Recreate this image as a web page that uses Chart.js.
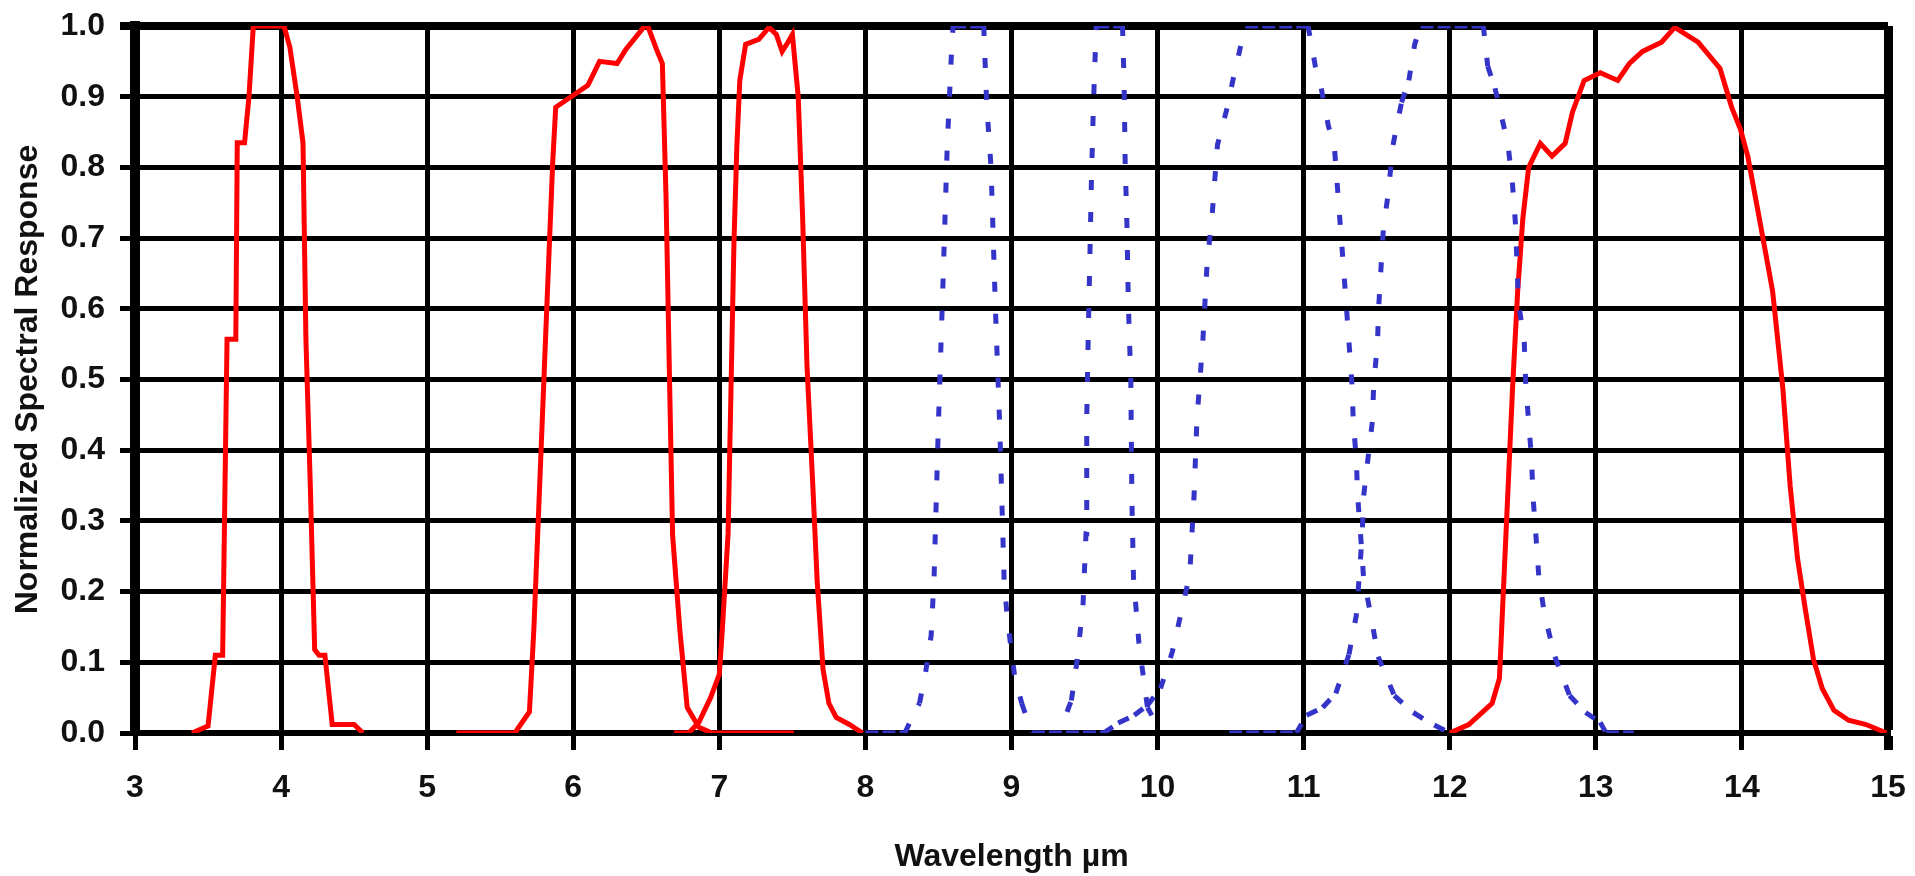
<!DOCTYPE html>
<html>
<head>
<meta charset="utf-8">
<script src="https://cdn.jsdelivr.net/npm/chart.js@4.4.1/dist/chart.umd.min.js"></script>
<style>
    html, body { margin: 0; padding: 0; background: #fff; }
    #wrap { width: 1915px; height: 876px; }
</style>
</head>
<body>
<div id="wrap"><canvas id="chart" width="1915" height="876"></canvas></div>
<script>
// axis ticks
const xTicks = [3, 4, 5, 6, 7, 8, 9, 10, 11, 12, 13, 14, 15];
const yTicks = [0, 0.1, 0.2, 0.3, 0.4, 0.5, 0.6, 0.7, 0.8, 0.9, 1.0];

// red (solid) bands
const band1Wl   = [3.39, 3.50, 3.55, 3.60, 3.63, 3.69, 3.70, 3.75, 3.78, 3.81, 4.02, 4.06, 4.11, 4.15, 4.17, 4.20, 4.23, 4.26, 4.30, 4.35, 4.50, 4.56];
const band1Resp = [0, 0.01, 0.11, 0.11, 0.557, 0.557, 0.835, 0.835, 0.90, 1.0, 1.0, 0.97, 0.90, 0.835, 0.557, 0.35, 0.118, 0.11, 0.11, 0.012, 0.012, 0];

const band2Wl   = [5.20, 5.60, 5.70, 5.73, 5.77, 5.81, 5.86, 5.88, 6.00, 6.10, 6.18, 6.30, 6.36, 6.49, 6.51, 6.57, 6.61, 6.635, 6.66, 6.68, 6.73, 6.78, 6.86, 6.95, 7.51];
const band2Resp = [0, 0, 0.03, 0.145, 0.35, 0.556, 0.81, 0.885, 0.902, 0.916, 0.95, 0.947, 0.967, 1.0, 1.0, 0.967, 0.947, 0.76, 0.49, 0.28, 0.145, 0.036, 0.008, 0, 0];

const band3Wl   = [6.69, 6.79, 6.86, 6.94, 7.00, 7.02, 7.06, 7.08, 7.10, 7.12, 7.14, 7.18, 7.27, 7.34, 7.39, 7.43, 7.47, 7.50, 7.54, 7.57, 7.60, 7.64, 7.67, 7.71, 7.75, 7.80, 7.89, 7.98];
const band3Resp = [0, 0, 0.015, 0.05, 0.083, 0.145, 0.282, 0.488, 0.693, 0.83, 0.923, 0.974, 0.981, 0.998, 0.988, 0.964, 0.977, 0.988, 0.9, 0.73, 0.52, 0.35, 0.214, 0.09, 0.042, 0.022, 0.012, 0];

const band4Wl   = [12.00, 12.13, 12.29, 12.34, 12.37, 12.40, 12.43, 12.465, 12.50, 12.54, 12.62, 12.70, 12.79, 12.84, 12.92, 13.03, 13.15, 13.23, 13.32, 13.45, 13.54, 13.70, 13.85, 13.93, 13.99, 14.04, 14.12, 14.21, 14.28, 14.33, 14.38, 14.43, 14.49, 14.55, 14.63, 14.73, 14.85, 14.99];
const band4Resp = [0, 0.012, 0.042, 0.077, 0.214, 0.35, 0.488, 0.625, 0.727, 0.80, 0.834, 0.816, 0.834, 0.878, 0.923, 0.934, 0.923, 0.947, 0.964, 0.977, 0.998, 0.977, 0.94, 0.885, 0.854, 0.816, 0.727, 0.625, 0.488, 0.35, 0.248, 0.18, 0.104, 0.063, 0.032, 0.018, 0.012, 0];

// blue (dotted) bands
const band5Wl   = [8.00, 8.27, 8.32, 8.37, 8.41, 8.45, 8.47, 8.50, 8.53, 8.56, 8.59, 8.60, 8.81, 8.83, 8.86, 8.89, 8.92, 8.95, 8.97, 9.00, 9.02, 9.07, 9.14];
const band5Resp = [0, 0, 0.022, 0.042, 0.083, 0.138, 0.22, 0.44, 0.63, 0.83, 0.966, 1.0, 1.0, 0.89, 0.80, 0.60, 0.43, 0.213, 0.166, 0.114, 0.083, 0.042, 0];

const band6Wl   = [9.38, 9.41, 9.45, 9.49, 9.51, 9.515, 9.525, 9.536, 9.547, 9.561, 9.577, 9.58, 9.76, 9.771, 9.778, 9.79, 9.80, 9.817, 9.824, 9.835, 9.872, 9.913, 9.931, 9.96];
const band6Resp = [0.03, 0.046, 0.104, 0.183, 0.282, 0.446, 0.559, 0.668, 0.78, 0.89, 0.983, 1.0, 1.0, 0.918, 0.808, 0.72, 0.607, 0.497, 0.333, 0.22, 0.128, 0.063, 0.036, 0.025];

const band7Wl   = [9.14, 9.63, 9.73, 9.84, 9.93, 10.02, 10.10, 10.16, 10.22, 10.25, 10.27, 10.29, 10.31, 10.34, 10.37, 10.39, 10.41, 10.48, 10.51, 10.57, 10.60, 11.03, 11.08, 11.12, 11.17, 11.21, 11.23, 11.25, 11.27, 11.29, 11.31, 11.33, 11.34, 11.36, 11.37, 11.39, 11.41, 11.46, 11.51, 11.62, 11.75, 11.86, 12.00];
const band7Resp = [0, 0, 0.014, 0.025, 0.039, 0.063, 0.114, 0.169, 0.224, 0.337, 0.446, 0.50, 0.555, 0.668, 0.723, 0.778, 0.832, 0.887, 0.918, 0.973, 1.0, 1.0, 0.943, 0.912, 0.858, 0.83, 0.775, 0.72, 0.666, 0.61, 0.553, 0.495, 0.44, 0.388, 0.334, 0.279, 0.22, 0.166, 0.108, 0.053, 0.029, 0.015, 0];

const band8Wl   = [10.49, 10.95, 11.02, 11.13, 11.22, 11.31, 11.36, 11.38, 11.40, 11.41, 11.44, 11.47, 11.48, 11.505, 11.514, 11.53, 11.546, 11.58, 11.61, 11.67, 11.72, 11.76, 11.80, 12.23, 12.26, 12.31, 12.37, 12.40, 12.43, 12.45, 12.46, 12.47, 12.51, 12.52, 12.54, 12.56, 12.57, 12.59, 12.61, 12.65, 12.72, 12.82, 12.93, 13.03, 13.07, 13.26];
const band8Resp = [0, 0, 0.025, 0.036, 0.056, 0.111, 0.166, 0.22, 0.279, 0.334, 0.388, 0.44, 0.495, 0.55, 0.604, 0.66, 0.714, 0.765, 0.83, 0.892, 0.923, 0.974, 1.0, 1.0, 0.943, 0.912, 0.858, 0.83, 0.775, 0.72, 0.666, 0.61, 0.553, 0.495, 0.44, 0.388, 0.334, 0.279, 0.22, 0.166, 0.108, 0.053, 0.029, 0.015, 0, 0];

const RED = '#ff0000';
const BLUE = '#3434c8';
const FONT = '"Liberation Sans", Arial, sans-serif';

function pts(wl, resp) {
    return wl.map((w, i) => ({x: w, y: resp[i]}));
}

// short dashes that stretch out on the steep parts
function blueDash(ctx) {
    const dx = Math.abs(ctx.p1.x - ctx.p0.x);
    const dy = Math.abs(ctx.p1.y - ctx.p0.y);
    const len = Math.hypot(dx, dy) || 1;
    const s = Math.round(dy / len * 10) / 10;
    return [13 - 3 * s, 4 + 18 * s];
}

function band(wl, resp, dotted) {
    return {
        data: pts(wl, resp),
        borderColor: dotted ? BLUE : RED,
        borderWidth: 5,
        borderCapStyle: 'butt',
        borderJoinStyle: 'miter',
        pointRadius: 0,
        pointHoverRadius: 0,
        tension: 0,
        fill: false,
        segment: dotted ? {borderDash: blueDash} : undefined,
    };
}

const datasets = [
    band(band5Wl, band5Resp, true),
    band(band6Wl, band6Resp, true),
    band(band7Wl, band7Resp, true),
    band(band8Wl, band8Resp, true),
    band(band1Wl, band1Resp, false),
    band(band2Wl, band2Resp, false),
    band(band3Wl, band3Resp, false),
    band(band4Wl, band4Resp, false),
];

new Chart(document.getElementById('chart').getContext('2d'), {
    type: 'line',
    data: {datasets: datasets},
    options: {
        responsive: false,
        animation: false,
        devicePixelRatio: 1,
        layout: {padding: {top: 26, right: 27, left: 0, bottom: 0}},
        plugins: {
            legend: {display: false},
            tooltip: {enabled: false},
        },
        scales: {
            x: {
                type: 'linear',
                min: xTicks[0],
                max: xTicks[xTicks.length - 1],
                afterBuildTicks: s => { s.ticks = xTicks.map(v => ({value: v})); },
                afterFit: s => {
                    s.height = 143;
                    s.paddingLeft = 0;
                    s.paddingRight = 0;
                },
                ticks: {
                    color: '#111',
                    font: {family: FONT, size: 32, weight: 'bold'},
                    padding: 19,
                    maxRotation: 0,
                    callback: v => String(v),
                },
                grid: {
                    color: '#000',
                    lineWidth: c => (c.tick && c.tick.value === 15) ? 9 : 5,
                    tickLength: 17,
                },
                border: {display: true, color: '#000', width: 6},
                title: {
                    display: true,
                    text: 'Wavelength µm',
                    color: '#111',
                    font: {family: FONT, size: 32, weight: 'bold'},
                    padding: {top: 1, bottom: 0},
                },
            },
            y: {
                type: 'linear',
                min: 0,
                max: 1,
                afterBuildTicks: s => { s.ticks = yTicks.map(v => ({value: v})); },
                afterFit: s => {
                    s.width = 135;
                    s.paddingTop = 0;
                    s.paddingBottom = 0;
                },
                ticks: {
                    color: '#111',
                    font: {family: FONT, size: 32, weight: 'bold'},
                    padding: 15,
                    callback: v => Number(v).toFixed(1),
                },
                grid: {
                    color: '#000',
                    lineWidth: c => (c.tick && c.tick.value === 1) ? 8 : 5,
                    tickLength: 15,
                },
                border: {display: true, color: '#000', width: 10},
                title: {
                    display: true,
                    text: 'Normalized Spectral Response',
                    color: '#111',
                    font: {family: FONT, size: 32, weight: 'bold'},
                    padding: {top: 9, bottom: 0},
                },
            },
        },
    },
});
</script>
</body>
</html>
